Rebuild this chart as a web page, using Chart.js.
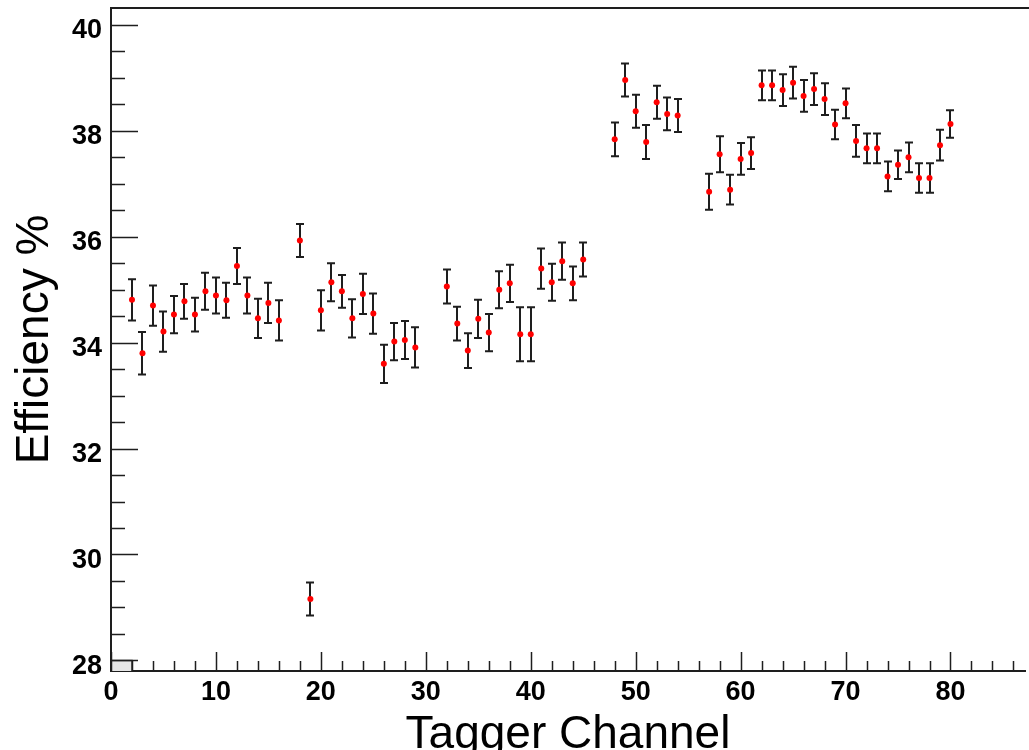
<!DOCTYPE html>
<html>
<head>
<meta charset="utf-8">
<script src="https://cdn.jsdelivr.net/npm/chart.js@4.4.1/dist/chart.umd.min.js"></script>
<style>
  html, body { margin: 0; padding: 0; background: #ffffff; overflow: hidden; }
  #wrap { position: relative; width: 1029px; height: 766px; }
</style>
</head>
<body>
<div id="wrap"><canvas id="c"></canvas></div>
<script>
// ---- data ----
const channels = [2,3,4,5,6,7,8,9,10,11,12,13,14,15,16,18,19,20,21,22,23,24,25,26,27,28,29,
  32,33,34,35,36,37,38,39,40,41,42,43,44,45,48,49,50,51,52,53,54,
  57,58,59,60,61,62,63,64,65,66,67,68,69,70,71,72,73,74,75,76,77,78,79,80];
const efficiency = [34.81,33.80,34.70,34.21,34.53,34.78,34.53,34.97,34.89,34.80,35.45,34.89,34.46,34.75,34.42,
  35.93,29.16,34.61,35.14,34.97,34.46,34.92,34.55,33.60,34.02,34.05,33.91,
  35.06,34.36,33.85,34.45,34.19,35.00,35.12,34.16,34.16,35.40,35.14,35.54,35.12,35.57,
  37.84,38.96,38.37,37.79,38.54,38.32,38.29,
  36.85,37.56,36.89,37.47,37.58,38.86,38.86,38.77,38.91,38.66,38.79,38.60,38.12,38.52,
  37.81,37.67,37.67,37.14,37.36,37.50,37.11,37.11,37.73,38.13];
const errors = [0.39,0.40,0.38,0.38,0.35,0.33,0.32,0.35,0.34,0.33,0.34,0.34,0.37,0.38,0.38,
  0.31,0.31,0.38,0.36,0.31,0.36,0.38,0.38,0.36,0.35,0.36,0.38,
  0.32,0.32,0.33,0.36,0.35,0.35,0.35,0.51,0.51,0.38,0.35,0.35,0.32,0.32,
  0.32,0.31,0.31,0.32,0.31,0.31,0.31,
  0.34,0.34,0.28,0.30,0.30,0.28,0.28,0.30,0.30,0.30,0.30,0.30,0.28,0.28,
  0.30,0.28,0.28,0.28,0.27,0.28,0.28,0.28,0.29,0.26];
// small underflow bin box at the lower-left corner
const boxX = [0, 2, 2];
const boxY = [28, 28, 27.8];
// axis ticks
const xMajorTicks = [0,10,20,30,40,50,60,70,80];
const xMinorStep = 2;
const yMajorTicks = [28,30,32,34,36,38,40];
const yMinorStep = 0.5;
const xTitle = 'Tagger Channel';
const yTitle = 'Efficiency %';

const points = channels.map((c, i) => ({ x: c, y: efficiency[i], err: errors[i] }));
const boxPts = boxX.map((x, i) => ({ x: x, y: boxY[i] }));

function buildTicks(majors, step) {
  const out = [];
  const lo = majors[0], hi = majors[majors.length - 1] + 10;
  for (let v = lo; v <= hi + 1e-9; v += step) out.push(Math.round(v * 1000) / 1000);
  return out;
}

const errorBarPlugin = {
  id: 'errorBars',
  beforeDatasetsDraw(chart) {
    const ctx = chart.ctx;
    const xs = chart.scales.x, ys = chart.scales.y;
    ctx.save();
    ctx.strokeStyle = '#1e1e1e';
    ctx.lineWidth = 2;
    points.forEach(p => {
      const px = Math.round(xs.getPixelForValue(p.x));
      const y1 = ys.getPixelForValue(p.y - p.err);
      const y2 = ys.getPixelForValue(p.y + p.err);
      ctx.beginPath();
      ctx.moveTo(px, y1); ctx.lineTo(px, y2);
      ctx.moveTo(px - 4, y1); ctx.lineTo(px + 4, y1);
      ctx.moveTo(px - 4, y2); ctx.lineTo(px + 4, y2);
      ctx.stroke();
    });
    ctx.restore();
  }
};

const insideTicksPlugin = {
  id: 'insideTicks',
  afterDraw(chart) {
    const ctx = chart.ctx;
    const xs = chart.scales.x, ys = chart.scales.y;
    const area = chart.chartArea;
    ctx.save();
    ctx.strokeStyle = '#1e1e1e';
    ctx.lineWidth = 1.5;
    ctx.beginPath();
    xs.ticks.forEach(t => {
      if (t.value < xs.min || t.value > xs.max) return;
      const px = Math.round(xs.getPixelForValue(t.value)) + 0.5;
      const len = xMajorTicks.includes(t.value) ? 19 : 10;
      ctx.moveTo(px, area.bottom); ctx.lineTo(px, area.bottom - len);
    });
    ys.ticks.forEach(t => {
      if (t.value < ys.min || t.value > ys.max) return;
      const py = Math.round(ys.getPixelForValue(t.value)) + 0.5;
      const len = yMajorTicks.includes(t.value) ? 27 : 14;
      ctx.moveTo(area.left, py); ctx.lineTo(area.left + len, py);
    });
    ctx.stroke();
    // top frame line
    ctx.lineWidth = 2;
    ctx.beginPath();
    ctx.moveTo(area.left, area.top); ctx.lineTo(chart.width, area.top);
    ctx.stroke();
    ctx.restore();
  }
};

function noPad(axis) {
  axis.paddingTop = 0; axis.paddingBottom = 0;
  axis.paddingLeft = 0; axis.paddingRight = 0;
}

new Chart(document.getElementById('c'), {
  type: 'scatter',
  data: {
    datasets: [
      {
        type: 'line',
        data: boxPts,
        borderColor: '#333333',
        borderWidth: 1.5,
        backgroundColor: '#e6e6e6',
        fill: 'start',
        pointRadius: 0,
        tension: 0,
        order: 2
      },
      {
        data: points,
        backgroundColor: '#ff0000',
        borderColor: '#ff0000',
        pointStyle: 'circle',
        pointRadius: 3,
        pointBorderWidth: 0,
        order: 1
      }
    ]
  },
  options: {
    responsive: true,
    maintainAspectRatio: false,
    animation: false,
    layout: { padding: { top: 8, right: 0, left: 0, bottom: 0 } },
    plugins: { legend: { display: false }, tooltip: { enabled: false } },
    scales: {
      x: {
        type: 'linear',
        min: 0,
        max: 87.1,
        afterBuildTicks: (axis) => { axis.ticks = buildTicks(xMajorTicks, xMinorStep).map(v => ({ value: v })); },
        afterFit: (axis) => { axis.height = 95; noPad(axis); },
        grid: { display: false, drawTicks: false },
        border: { display: true, color: '#1e1e1e', width: 2 },
        ticks: {
          autoSkip: false,
          maxRotation: 0,
          padding: 5,
          color: '#000000',
          font: { family: 'Liberation Sans', size: 27, weight: 'bold' },
          callback: (v) => xMajorTicks.includes(v) ? String(v) : ''
        },
        title: {
          display: true,
          text: xTitle,
          color: '#000000',
          font: { family: 'Liberation Sans', size: 46, weight: 'normal' },
          padding: { top: 0, bottom: 3 }
        }
      },
      y: {
        type: 'linear',
        min: 27.8,
        max: 40.32,
        afterBuildTicks: (axis) => { axis.ticks = buildTicks(yMajorTicks, yMinorStep).filter(v => v <= 40).map(v => ({ value: v })); },
        afterFit: (axis) => { axis.width = 111; noPad(axis); },
        grid: { display: false, drawTicks: false },
        border: { display: true, color: '#1e1e1e', width: 2 },
        ticks: {
          autoSkip: false,
          padding: 9,
          labelOffset: 6,
          color: '#000000',
          font: { family: 'Liberation Sans', size: 27, weight: 'bold' },
          callback: (v) => yMajorTicks.includes(v) ? String(v) : ''
        },
        title: {
          display: true,
          text: yTitle,
          color: '#000000',
          font: { family: 'Liberation Sans', size: 46, weight: 'normal' },
          padding: { top: 8, bottom: 0 }
        }
      }
    }
  },
  plugins: [errorBarPlugin, insideTicksPlugin]
});
</script>
</body>
</html>
